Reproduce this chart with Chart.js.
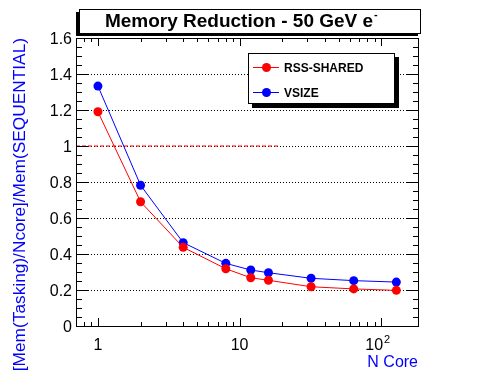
<!DOCTYPE html>
<html lang="en">
<head>
  <meta charset="UTF-8" />
  <title>Memory Reduction - 50 GeV e-</title>
  <script src="https://cdn.jsdelivr.net/npm/chart.js"></script>
  <style>
    html, body { margin: 0; padding: 0; background: #fff; }
    #wrap { width: 496px; height: 372px; }
  </style>
</head>
<body>
  <div id="wrap"><canvas id="chart" width="496" height="372"></canvas></div>
  <script>
    // data
    const nCore = [1, 2, 4, 8, 12, 16, 32, 64, 128];
    const rssShared = [1.19, 0.69, 0.437, 0.318, 0.268, 0.254, 0.218, 0.206, 0.198];
    const vsize = [1.333, 0.782, 0.463, 0.348, 0.311, 0.296, 0.265, 0.252, 0.244];
    const refLineX = [0.7, 18.6];
    const refLineY = 1;
    const yTicks = [0, 0.2, 0.4, 0.6, 0.8, 1, 1.2, 1.4, 1.6];
    const yTickLabels = ['0', '0.2', '0.4', '0.6', '0.8', '1', '1.2', '1.4', '1.6'];
    const xTicks = [1, 10, 100];
    const xTickLabels = ['1', '10', '10|2'];

    const FONT = '"Liberation Sans", Arial, Helvetica, sans-serif';
    const RED = '#ff0000', BLUE = '#0000ff';

    function pts(xs, ys) { return xs.map((x, i) => ({ x: x, y: ys[i] })); }

    const rootFrame = {
      id: 'rootFrame',
      beforeDatasetsDraw(chart) {
        const { ctx, chartArea: a, scales: { y } } = chart;
        ctx.save();
        ctx.strokeStyle = '#000';
        ctx.lineWidth = 1;
        ctx.setLineDash([1, 2]);
        yTicks.forEach(v => {
          if (v <= 0 || v >= 1.6) return;
          const py = Math.round(y.getPixelForValue(v)) + 0.5;
          ctx.beginPath(); ctx.moveTo(a.left, py); ctx.lineTo(a.right, py); ctx.stroke();
        });
        ctx.restore();
      },
      afterDatasetsDraw(chart) {
        const { ctx, chartArea: a, scales: { x, y } } = chart;
        ctx.save();
        ctx.strokeStyle = '#000';
        ctx.lineWidth = 1;
        ctx.setLineDash([]);
        ctx.strokeRect(a.left + 0.5, a.top + 0.5, a.right - a.left - 1, a.bottom - a.top);

        // y ticks, left and right
        for (let i = 0; i <= 32; i++) {
          const v = i * 0.05;
          const py = Math.round(y.getPixelForValue(v)) + 0.5;
          const len = i % 4 === 0 ? 12 : 6;
          ctx.beginPath();
          ctx.moveTo(a.left, py); ctx.lineTo(a.left + len, py);
          ctx.moveTo(a.right, py); ctx.lineTo(a.right - len, py);
          ctx.stroke();
        }
        // x ticks, bottom and top (log)
        for (let d = 0.1; d <= 100; d *= 10) {
          for (let k = 1; k <= 9; k++) {
            const v = d * k;
            if (v < x.min || v > x.max) continue;
            const px = Math.round(x.getPixelForValue(v)) + 0.5;
            const len = k === 1 ? 8 : 4;
            ctx.beginPath();
            ctx.moveTo(px, a.bottom); ctx.lineTo(px, a.bottom - len);
            ctx.moveTo(px, a.top); ctx.lineTo(px, a.top + len);
            ctx.stroke();
          }
        }

        // tick labels
        ctx.fillStyle = '#000';
        ctx.font = '16px ' + FONT;
        ctx.textAlign = 'right';
        ctx.textBaseline = 'alphabetic';
        yTicks.forEach((v, i) => {
          ctx.fillText(yTickLabels[i], 72, y.getPixelForValue(v) + 6);
        });
        xTicks.forEach((v, i) => {
          const px = x.getPixelForValue(v);
          const parts = xTickLabels[i].split('|');
          ctx.font = '16px ' + FONT;
          const w0 = ctx.measureText(parts[0]).width;
          if (parts.length > 1) {
            ctx.textAlign = 'left';
            const left = px - w0 / 2 - 7;
            ctx.fillText(parts[0], left, 350);
            ctx.font = '11px ' + FONT;
            ctx.fillText(parts[1], left + w0 + 1, 343);
          } else {
            ctx.textAlign = 'center';
            ctx.fillText(parts[0], px, 350);
          }
        });

        // axis titles
        ctx.fillStyle = BLUE;
        ctx.font = '16px ' + FONT;
        ctx.textAlign = 'right';
        ctx.fillText('N Core', 418, 367);
        ctx.save();
        ctx.translate(25, a.top);
        ctx.rotate(-Math.PI / 2);
        ctx.font = '17.3px ' + FONT;
        ctx.textAlign = 'right';
        ctx.fillText('[Mem(Tasking)/Ncore]/Mem(SEQUENTIAL)', 0, 0);
        ctx.restore();
        ctx.restore();
      },
      afterDraw(chart) {
        const { ctx } = chart;
        ctx.save();
        // title pave with shadow
        ctx.fillStyle = '#000';
        ctx.fillRect(76, 12, 342, 24);
        ctx.fillStyle = '#fff';
        ctx.fillRect(79, 9, 342, 24);
        ctx.strokeStyle = '#000';
        ctx.lineWidth = 1;
        ctx.strokeRect(79.5, 9.5, 341, 24);
        ctx.fillStyle = '#000';
        ctx.font = 'bold 19px ' + FONT;
        ctx.textAlign = 'left';
        ctx.textBaseline = 'alphabetic';
        const title = 'Memory Reduction - 50 GeV e';
        const tw = ctx.measureText(title).width;
        const tx = 242 - (tw + 6) / 2;
        ctx.fillText(title, tx, 27);
        ctx.font = 'bold 11px ' + FONT;
        ctx.fillText('-', tx + tw + 1, 18);

        // legend pave with shadow
        ctx.fillStyle = '#000';
        ctx.fillRect(252, 57, 147, 51);
        ctx.fillStyle = '#fff';
        ctx.fillRect(248, 53, 147, 51);
        ctx.strokeRect(248.5, 53.5, 146, 50);
        const items = [['RSS-SHARED', RED, 67], ['VSIZE', BLUE, 92]];
        items.forEach(([label, col, cy]) => {
          ctx.strokeStyle = col;
          ctx.beginPath(); ctx.moveTo(253, cy + 0.5); ctx.lineTo(279, cy + 0.5); ctx.stroke();
          ctx.fillStyle = col;
          ctx.beginPath(); ctx.arc(266.5, cy + 0.5, 4.5, 0, Math.PI * 2); ctx.fill();
          ctx.fillStyle = '#000';
          ctx.font = 'bold 12px ' + FONT;
          ctx.fillText(label, 284, cy + 4.5);
        });
        ctx.restore();
      }
    };

    new Chart(document.getElementById('chart'), {
      type: 'scatter',
      data: {
        datasets: [
          { data: pts(refLineX, refLineX.map(() => refLineY)), showLine: true, borderColor: RED, borderWidth: 1, borderDash: [4, 2], pointRadius: 0 },
          { data: pts(nCore, rssShared), showLine: true, borderColor: RED, backgroundColor: RED, borderWidth: 1, pointRadius: 4.5, pointBorderWidth: 0, pointBackgroundColor: RED },
          { data: pts(nCore, vsize), showLine: true, borderColor: BLUE, backgroundColor: BLUE, borderWidth: 1, pointRadius: 4.5, pointBorderWidth: 0, pointBackgroundColor: BLUE }
        ]
      },
      options: {
        responsive: false,
        animation: false,
        layout: { padding: { left: 76, right: 77, top: 38, bottom: 46 } },
        scales: {
          x: { type: 'logarithmic', min: 0.7, max: 185, display: false },
          y: { type: 'linear', min: 0, max: 1.6, display: false }
        },
        plugins: { legend: { display: false }, tooltip: { enabled: false } }
      },
      plugins: [rootFrame]
    });
  </script>
</body>
</html>
